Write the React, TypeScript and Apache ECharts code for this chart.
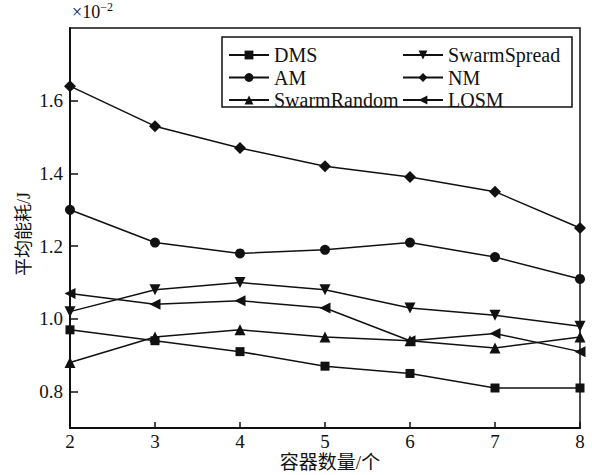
import React, { useEffect, useRef } from "react";
import * as echarts from "echarts";

const containerCounts = [2, 3, 4, 5, 6, 7, 8];
const dms = [0.97, 0.94, 0.91, 0.87, 0.85, 0.81, 0.81];
const am = [1.3, 1.21, 1.18, 1.19, 1.21, 1.17, 1.11];
const swarmRandom = [0.88, 0.95, 0.97, 0.95, 0.94, 0.92, 0.95];
const swarmSpread = [1.02, 1.08, 1.1, 1.08, 1.03, 1.01, 0.98];
const nm = [1.64, 1.53, 1.47, 1.42, 1.39, 1.35, 1.25];
const losm = [1.07, 1.04, 1.05, 1.03, 0.94, 0.96, 0.91];
const yTickValues = [0.8, 1.0, 1.2, 1.4, 1.6];

const SERIF = "Liberation Serif";
const CJK = "Liberation Serif, Noto Sans CJK SC";

type SeriesDef = {
  name: string;
  values: number[];
  symbol: string;
  size: number;
  rotate?: number;
};

const seriesDefs: SeriesDef[] = [
  { name: "DMS", values: dms, symbol: "rect", size: 9 },
  { name: "AM", values: am, symbol: "circle", size: 10 },
  { name: "SwarmRandom", values: swarmRandom, symbol: "triangle", size: 11 },
  { name: "SwarmSpread", values: swarmSpread, symbol: "triangle", size: 11, rotate: 180 },
  { name: "NM", values: nm, symbol: "diamond", size: 12 },
  { name: "LOSM", values: losm, symbol: "triangle", size: 11, rotate: 90 },
];

const legendCommon = {
  orient: "vertical" as const,
  padding: 0,
  itemWidth: 40,
  itemHeight: 11,
  itemGap: 2.5,
  textStyle: { fontFamily: SERIF, fontSize: 20, color: "#111", lineHeight: 20 },
  inactiveColor: "#111",
  selectedMode: false,
};

export default function App() {
  const ref = useRef<HTMLDivElement>(null);

  useEffect(() => {
    if (!ref.current) return;
    const chart = echarts.init(ref.current, undefined, { renderer: "svg" });

    const series = seriesDefs.map((d) => ({
      name: d.name,
      type: "line",
      data: containerCounts.map((x, i) => [x, d.values[i]]),
      symbol: d.symbol,
      symbolSize: d.size,
      symbolRotate: d.rotate ?? 0,
      showAllSymbol: true,
      clip: false,
      lineStyle: { color: "#111", width: 1.5 },
      itemStyle: { color: "#111" },
      emphasis: { disabled: true },
    }));

    chart.setOption({
      animation: false,
      backgroundColor: "#fff",
      grid: {
        left: 70,
        right: 12,
        top: 28,
        bottom: 47,
        show: true,
        borderColor: "#111",
        borderWidth: 1.5,
        backgroundColor: "transparent",
      },
      xAxis: {
        type: "value",
        min: 2,
        max: 8,
        interval: 1,
        axisLine: { lineStyle: { color: "#111", width: 2 } },
        axisTick: { inside: true, length: 6, lineStyle: { color: "#111", width: 1.5 } },
        axisLabel: { fontFamily: SERIF, fontSize: 19, color: "#111", margin: 4 },
        splitLine: { show: false },
      },
      yAxis: {
        type: "value",
        min: 0.7,
        max: 1.8,
        axisLine: { show: true, lineStyle: { color: "#111", width: 2 } },
        axisTick: {
          show: true,
          inside: true,
          length: 8,
          customValues: yTickValues,
          lineStyle: { color: "#111", width: 1.5 },
        },
        axisLabel: {
          fontFamily: SERIF,
          fontSize: 19,
          color: "#111",
          margin: 7,
          customValues: yTickValues,
          formatter: (v: number) => v.toFixed(1),
        },
        splitLine: { show: false },
      },
      legend: [
        {
          ...legendCommon,
          left: 228,
          top: 45,
          data: ["DMS", "AM", "SwarmRandom"],
        },
        {
          ...legendCommon,
          left: 402,
          top: 45,
          data: ["SwarmSpread", "NM", "LOSM"],
        },
      ],
      graphic: [
        {
          type: "rect",
          shape: { x: 222, y: 37, width: 350, height: 70 },
          style: { fill: "none", stroke: "#111", lineWidth: 1.5 },
          z: 10,
        },
        {
          type: "text",
          x: 72,
          y: 1,
          style: {
            text: "{a|×10}{b|−2}",
            rich: {
              a: { fontFamily: SERIF, fontSize: 18, fill: "#111", verticalAlign: "bottom" },
              b: { fontFamily: SERIF, fontSize: 12, fill: "#111", verticalAlign: "top", padding: [0, 0, 8, 0] },
            },
          },
        },
        {
          type: "text",
          x: 330,
          y: 462,
          style: {
            text: "容器数量/个",
            fontFamily: CJK,
            fontSize: 19,
            fill: "#111",
            align: "center",
            verticalAlign: "middle",
          },
        },
        {
          type: "text",
          x: 24,
          y: 234,
          rotation: Math.PI / 2,
          style: {
            text: "平均能耗/J",
            fontFamily: CJK,
            fontSize: 18,
            fill: "#111",
            align: "center",
            verticalAlign: "middle",
          },
        },
      ],
      series,
    });

    return () => chart.dispose();
  }, []);

  return (
    <div
      ref={ref}
      style={{ position: "absolute", left: 0, top: 0, width: 592, height: 475 }}
    />
  );
}
